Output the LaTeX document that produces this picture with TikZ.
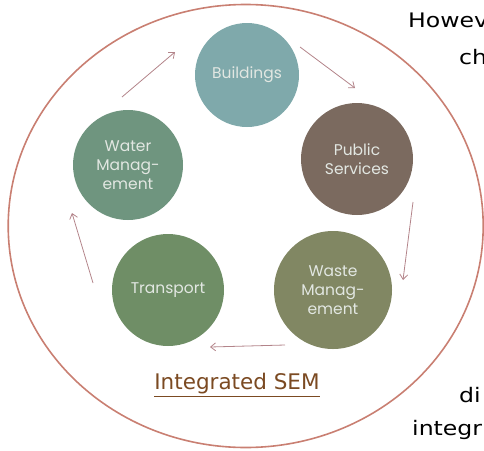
\documentclass[tikz,border=0pt]{standalone}
\usepackage{fontspec}
\setmainfont{DejaVu Sans}
\newfontfamily\geofont{Poppins}
\newfontfamily\bodyfont[FakeStretch=1.18]{DejaVu Sans}
\usetikzlibrary{arrows.meta}
\definecolor{ringred}{HTML}{C97F72}
\definecolor{arrowpink}{HTML}{B3848A}
\definecolor{cbuild}{HTML}{7FA9AB}
\definecolor{cpublic}{HTML}{7B6A5F}
\definecolor{cwaste}{HTML}{818763}
\definecolor{ctrans}{HTML}{6F8E66}
\definecolor{cwater}{HTML}{6F957F}
\definecolor{celltext}{HTML}{E2E7E2}
\definecolor{linkbrown}{HTML}{7B4A22}
\tikzset{
  cell/.style={circle, inner sep=0pt, text=celltext, align=center,
    font=\geofont\fontsize{15.5}{19}\selectfont},
  flow/.style={draw=arrowpink, line width=0.8pt,
    -{Straight Barb[length=5pt,width=8pt]}},
  bodytext/.style={anchor=base west, inner sep=0pt, text=black,
    font=\bodyfont\fontsize{20}{24}\selectfont},
}
\begin{document}
\begin{tikzpicture}[x=1pt,y=-1pt]
\useasboundingbox (0,0) rectangle (484,450);
\begin{scope}
\clip (0,0) rectangle (484,450);
% outer ring
\draw[ringred, line width=1.6pt] (245.7,226) ellipse [x radius=237.5, y radius=221.5];

% the five sectors
\node[cell, fill=cbuild,  minimum size=104pt] (build) at (247,75)  {Buildings};
\node[cell, fill=cpublic, minimum size=112pt] (pub)   at (357,159) {Public\\Services};
\node[cell, fill=cwaste,  minimum size=118pt] (waste) at (333,290) {Waste\\Manag-\\ement};
\node[cell, fill=ctrans,  minimum size=112pt] (trans) at (168,290) {Transport};
\node[cell, fill=cwater,  minimum size=110pt] (water) at (128,165) {Water\\Manag-\\ement};

% cycle arrows
\coordinate (a1s) at (122,97);  \coordinate (a1e) at (175,52);
\coordinate (a2s) at (300,47);  \coordinate (a2e) at (355,88);
\coordinate (a3s) at (413,202); \coordinate (a3e) at (403,280);
\coordinate (a4s) at (285,345); \coordinate (a4e) at (210,347);
\coordinate (a5s) at (93,283);  \coordinate (a5e) at (72,213);
\draw[flow] (a1s) -- (a1e);
\draw[flow] (a2s) -- (a2e);
\draw[flow] (a3s) -- (a3e);
\draw[flow] (a4s) -- (a4e);
\draw[flow] (a5s) -- (a5e);

% caption
\node[text=linkbrown, inner sep=0pt, font=\fontsize{21.5}{24}\selectfont]
  (cap) at (237,385) {\underline{Integrated SEM}};

% running text beside the figure
\node[bodytext] (t1) at (408,27)  {Howev};
\node[bodytext] (t2) at (459,64)  {ch};
\node[bodytext] (t3) at (459,402) {di};
\node[bodytext] (t4) at (412,435) {integr};
\end{scope}
\end{tikzpicture}
\end{document}
